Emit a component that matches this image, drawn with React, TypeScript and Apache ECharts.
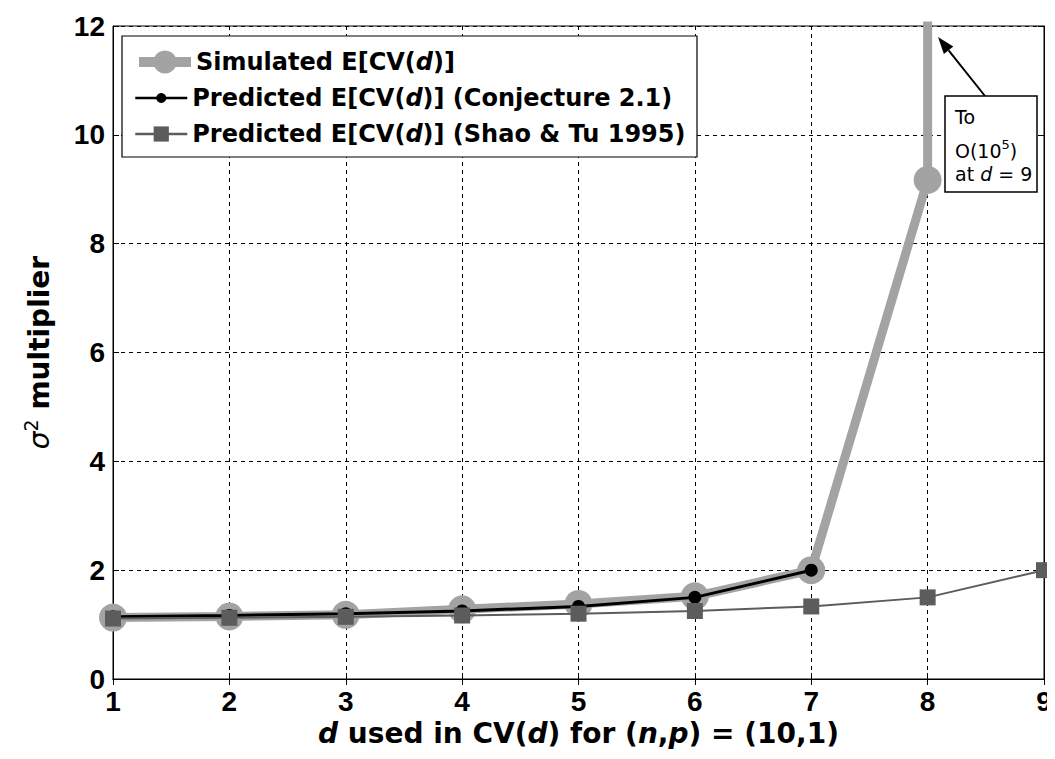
import React, { useEffect, useRef } from "react";
import * as echarts from "echarts";

// d values used in leave-d-out cross-validation, n = 10, p = 1
const dValues = [1, 2, 3, 4, 5, 6, 7, 8, 9];
// Simulated E[CV(d)] as a multiple of sigma^2 (d = 9 blows up to ~1e5)
const simulated = [1.13, 1.15, 1.18, 1.28, 1.38, 1.52, 2.0, 9.17, 100000];
// Prediction from Conjecture 2.1 (undefined for d >= 8)
const conjecture = [1.143, 1.167, 1.2, 1.25, 1.333, 1.5, 2.0, null, null];
// Prediction from Shao & Tu (1995)
const shaoTu = [1.111, 1.125, 1.143, 1.167, 1.2, 1.25, 1.333, 1.5, 2.0];
const yTicks = [0, 2, 4, 6, 8, 10, 12];

const SANS = "'Liberation Sans', Arial, sans-serif";
const WIDE = "'DejaVu Sans', 'Liberation Sans', sans-serif";

const names = [
  "Simulated E[CV(d)]",
  "Predicted E[CV(d)] (Conjecture 2.1)",
  "Predicted E[CV(d)] (Shao & Tu 1995)",
];

const SIM_GRAY = "#a3a3a3";
const SHAO_GRAY = "#5c5c5c";

// One legend row per series so each key can carry its own marker size
const legendRow = (name: string, top: number, itemHeight: number, lineWidth: number) => ({
  orient: "horizontal",
  left: 134,
  top,
  padding: 0,
  itemWidth: 52,
  itemHeight,
  selectedMode: false,
  data: [name],
  lineStyle: { width: lineWidth },
  formatter: (n: string) => n.replace("(d)", "({i|d})"),
  textStyle: {
    fontFamily: WIDE,
    fontWeight: "bold",
    fontSize: 24,
    lineHeight: 28,
    color: "#000",
    rich: {
      i: { fontStyle: "italic", fontWeight: "bold", fontSize: 24, lineHeight: 28, fontFamily: WIDE, color: "#000" },
    },
  },
});

// Arrow pointing up out of the plot toward the d = 9 value
const arrowTail = [985, 96];
const arrowTip = [938, 37];

export default function App() {
  const ref = useRef<HTMLDivElement>(null);

  useEffect(() => {
    if (!ref.current) return;
    const chart = echarts.init(ref.current, null, { renderer: "svg" });
    const pair = (ys: (number | null)[]) => dValues.map((d, i) => [d, ys[i]]);

    const dx = arrowTip[0] - arrowTail[0];
    const dy = arrowTip[1] - arrowTail[1];
    const len = Math.hypot(dx, dy);
    const ux = dx / len;
    const uy = dy / len;
    const headLen = 17;
    const headHalf = 6;
    const bx = arrowTip[0] - headLen * ux;
    const by = arrowTip[1] - headLen * uy;
    const head = [
      arrowTip,
      [bx - uy * headHalf, by + ux * headHalf],
      [bx + uy * headHalf, by - ux * headHalf],
    ];

    const baseAxis = {
      type: "value",
      axisLine: { show: true, lineStyle: { color: "#000", width: 1 } },
      axisTick: { show: true, inside: true, length: 6, lineStyle: { color: "#000" } },
    };

    chart.setOption({
      animation: false,
      backgroundColor: "#fff",
      textStyle: { fontFamily: SANS },
      grid: {
        left: 113,
        right: 11,
        top: 26,
        bottom: 80,
        show: true,
        borderColor: "#000",
        borderWidth: 1,
        backgroundColor: "transparent",
      },
      legend: [
        legendRow(names[0], 48, 29, 10),
        legendRow(names[1], 84, 12.5, 2.5),
        legendRow(names[2], 120, 19, 2.5),
      ],
      xAxis: [
        {
          ...baseAxis,
          min: 1,
          max: 9,
          interval: 1,
          name: "{i|d} used in CV({i|d}) for ({i|n},{i|p}) = (10,1)",
          nameLocation: "middle",
          nameGap: 34,
          nameTextStyle: {
            fontFamily: WIDE,
            fontWeight: "bold",
            fontSize: 28,
            color: "#000",
            rich: {
              i: { fontStyle: "italic", fontWeight: "bold", fontSize: 28, fontFamily: WIDE, color: "#000" },
            },
          },
          axisLabel: { fontFamily: SANS, fontWeight: "bold", fontSize: 28, color: "#000", margin: 8 },
          splitLine: { show: true, lineStyle: { color: "#000", width: 1, type: [4, 4] } },
        },
        {
          ...baseAxis,
          position: "top",
          min: 1,
          max: 9,
          interval: 1,
          axisLabel: { show: false },
          splitLine: { show: false },
        },
      ],
      yAxis: [
        {
          ...baseAxis,
          min: 0,
          max: 12,
          interval: 2,
          name: "{s|σ}{sup|2} multiplier",
          nameLocation: "middle",
          nameRotate: 90,
          nameGap: 55,
          nameTextStyle: {
            fontFamily: WIDE,
            fontWeight: "bold",
            fontSize: 28,
            color: "#000",
            rich: {
              s: { fontStyle: "italic", fontWeight: "normal", fontSize: 28, fontFamily: WIDE, color: "#000" },
              sup: { fontSize: 19, fontWeight: "normal", fontFamily: WIDE, color: "#000", padding: [0, 0, 18, 0] },
            },
          },
          axisLabel: {
            fontFamily: SANS,
            fontWeight: "bold",
            fontSize: 28,
            color: "#000",
            margin: 8,
            formatter: (v: number) => (yTicks.includes(v) ? String(v) : ""),
          },
          splitLine: { show: true, lineStyle: { color: "#000", width: 1, type: [4, 4] } },
        },
        {
          ...baseAxis,
          position: "right",
          min: 0,
          max: 12,
          interval: 2,
          axisLabel: { show: false },
          splitLine: { show: false },
        },
      ],
      series: [
        {
          name: names[0],
          type: "line",
          data: pair(simulated),
          clip: true,
          symbol: "circle",
          symbolSize: 28,
          z: 2,
          lineStyle: { color: SIM_GRAY, width: 9 },
          itemStyle: { color: SIM_GRAY },
        },
        {
          name: names[1],
          type: "line",
          data: pair(conjecture),
          clip: true,
          symbol: "circle",
          symbolSize: 13,
          z: 3,
          lineStyle: { color: "#000", width: 3 },
          itemStyle: { color: "#000" },
        },
        {
          name: names[2],
          type: "line",
          data: pair(shaoTu),
          clip: false,
          symbol: "rect",
          symbolSize: 16,
          z: 4,
          lineStyle: { color: SHAO_GRAY, width: 2 },
          itemStyle: { color: SHAO_GRAY },
        },
      ],
      graphic: [
        // legend frame
        {
          type: "rect",
          shape: { x: 122, y: 36, width: 575, height: 121 },
          style: { fill: "#fff", stroke: "#000", lineWidth: 1.2 },
          z: 3,
        },
        {
          type: "line",
          shape: { x1: arrowTail[0], y1: arrowTail[1], x2: bx, y2: by },
          style: { stroke: "#000", lineWidth: 2 },
          z: 10,
        },
        {
          type: "polygon",
          shape: { points: head },
          style: { fill: "#000" },
          z: 10,
        },
        {
          type: "rect",
          shape: { x: 945, y: 96, width: 92, height: 96 },
          style: { fill: "#fff", stroke: "#000", lineWidth: 1.5 },
          z: 10,
        },
        {
          type: "text",
          x: 955,
          y: 117,
          z: 11,
          style: { text: "To", fontFamily: WIDE, fontSize: 19, fill: "#000", verticalAlign: "middle" },
        },
        {
          type: "text",
          x: 955,
          y: 151,
          z: 11,
          style: {
            text: "O(10{sup|5})",
            fontFamily: WIDE,
            fontSize: 19,
            fill: "#000",
            verticalAlign: "middle",
            rich: {
              sup: { fontSize: 13, fontFamily: WIDE, fill: "#000", padding: [0, 0, 14, 0] },
            },
          },
        },
        {
          type: "text",
          x: 955,
          y: 174,
          z: 11,
          style: {
            text: "at {i|d} = 9",
            fontFamily: WIDE,
            fontSize: 19,
            fill: "#000",
            verticalAlign: "middle",
            rich: {
              i: { fontStyle: "italic", fontSize: 19, fontFamily: WIDE, fill: "#000" },
            },
          },
        },
      ],
    });

    return () => chart.dispose();
  }, []);

  return <div ref={ref} style={{ width: 1055, height: 759, margin: -8 }} />;
}
